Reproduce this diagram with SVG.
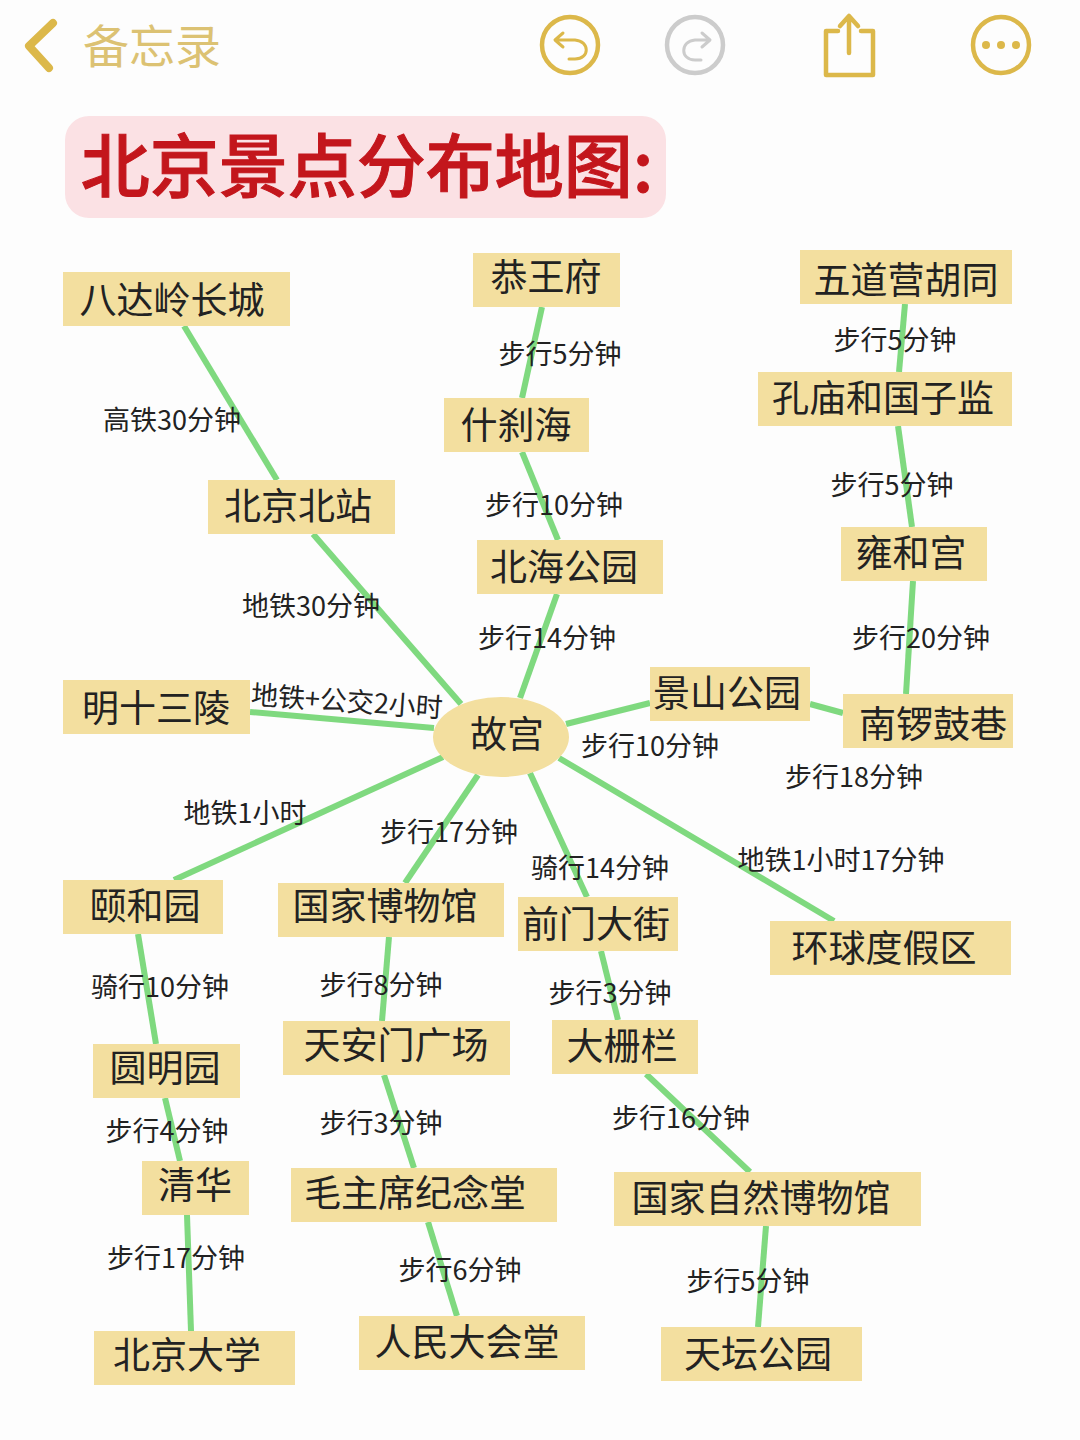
<svg xmlns="http://www.w3.org/2000/svg" width="1080" height="1440" viewBox="0 0 1080 1440">
<style>
text{font-family:"Noto Sans CJK SC","Liberation Sans",sans-serif;text-anchor:middle;fill:#222}
.n rect{fill:#f3df9f}
.n text{font-size:37px}
.l{font-size:27px}
.c line{stroke:#7fd97f;stroke-width:6}
.i{fill:none;stroke:#dcb84a;stroke-width:4.5;stroke-linecap:round;stroke-linejoin:round}
</style>
<rect width="1080" height="1440" fill="#fdfdfd"/>
<g id="toolbar">
<path class="i" d="M53 23L29 46L49 68" style="stroke-width:8"/>
<text x="152" y="63" style="font-size:46px;fill:#dcc273">备忘录</text>
<circle class="i" cx="570" cy="45" r="28"/>
<path class="i" style="stroke-width:3" d="M563 34L555 41L563 48M556 41H575C590 42 590 60 575 60H569" transform="translate(0,-1)"/>
<circle class="i" cx="695" cy="45" r="28" style="stroke:#ccc"/>
<path class="i" style="stroke:#ccc;stroke-width:3" d="M702 33L710 40L702 47M709 40H695C680 41 680 60 695 60H701"/>
<path class="i" d="M838 31H826V75H873V31H861M849 17V53M840 26L849 16L858 26"/>
<circle class="i" cx="1001" cy="45" r="28"/>
<g fill="#dcb84a"><circle cx="986" cy="45" r="4"/><circle cx="1001" cy="45" r="4"/><circle cx="1016" cy="45" r="4"/></g>
</g>
<g id="title">
<rect x="65" y="116" width="601" height="102" rx="24" fill="#fbe1e4"/>
<text x="367" y="192" style="font-size:69px;font-weight:500;fill:#c3161c;stroke:#c3161c;stroke-width:1">北京景点分布地图:</text>
</g>
<g id="connectors" class="c">
<line x1="184" y1="326" x2="277" y2="480"/>
<line x1="313" y1="534" x2="461" y2="704"/>
<line x1="250" y1="712" x2="434" y2="728"/>
<line x1="174" y1="880" x2="443" y2="757"/>
<line x1="138" y1="934" x2="156" y2="1044"/>
<line x1="165" y1="1098" x2="180" y2="1161"/>
<line x1="187" y1="1215" x2="191" y2="1331"/>
<line x1="542" y1="307" x2="522" y2="398"/>
<line x1="522" y1="452" x2="558" y2="540"/>
<line x1="557" y1="594" x2="520" y2="698"/>
<line x1="905" y1="304" x2="899" y2="372"/>
<line x1="898" y1="426" x2="912" y2="527"/>
<line x1="913" y1="581" x2="906" y2="694"/>
<line x1="566" y1="724" x2="650" y2="703"/>
<line x1="810" y1="704" x2="843" y2="713"/>
<line x1="478" y1="775" x2="405" y2="883"/>
<line x1="389" y1="937" x2="382" y2="1021"/>
<line x1="384" y1="1075" x2="414" y2="1168"/>
<line x1="428" y1="1222" x2="457" y2="1316"/>
<line x1="530" y1="773" x2="587" y2="897"/>
<line x1="601" y1="951" x2="618" y2="1020"/>
<line x1="646" y1="1074" x2="750" y2="1172"/>
<line x1="766" y1="1226" x2="758" y2="1327"/>
<line x1="559" y1="758" x2="834" y2="921"/>
</g>
<g id="labels" class="l">
<text x="172" y="430">高铁30分钟</text>
<text x="311" y="616">地铁30分钟</text>
<text x="347" y="711" transform="rotate(4 347 700)">地铁+公交2小时</text>
<text x="245" y="823">地铁1小时</text>
<text x="160" y="997">骑行10分钟</text>
<text x="167" y="1141">步行4分钟</text>
<text x="176" y="1268">步行17分钟</text>
<text x="560" y="364">步行5分钟</text>
<text x="554" y="515">步行10分钟</text>
<text x="547" y="648">步行14分钟</text>
<text x="895" y="350">步行5分钟</text>
<text x="892" y="495">步行5分钟</text>
<text x="921" y="648">步行20分钟</text>
<text x="650" y="756">步行10分钟</text>
<text x="854" y="787">步行18分钟</text>
<text x="449" y="842">步行17分钟</text>
<text x="381" y="995">步行8分钟</text>
<text x="381" y="1133">步行3分钟</text>
<text x="460" y="1280">步行6分钟</text>
<text x="600" y="878">骑行14分钟</text>
<text x="610" y="1003">步行3分钟</text>
<text x="681" y="1128">步行16分钟</text>
<text x="748" y="1291">步行5分钟</text>
<text x="841" y="870">地铁1小时17分钟</text>
</g>
<g id="n1" class="n"><rect x="63" y="272" width="227" height="54"/><text x="172" y="314">八达岭长城</text></g>
<g id="n2" class="n"><rect x="473" y="253" width="147" height="54"/><text x="546" y="291">恭王府</text></g>
<g id="n3" class="n"><rect x="800" y="250" width="212" height="54"/><text x="906" y="294">五道营胡同</text></g>
<g id="n4" class="n"><rect x="444" y="398" width="145" height="54"/><text x="516" y="439">什刹海</text></g>
<g id="n5" class="n"><rect x="758" y="372" width="254" height="54"/><text x="883" y="412">孔庙和国子监</text></g>
<g id="n6" class="n"><rect x="208" y="480" width="187" height="54"/><text x="298" y="520">北京北站</text></g>
<g id="n7" class="n"><rect x="477" y="540" width="186" height="54"/><text x="564" y="581">北海公园</text></g>
<g id="n8" class="n"><rect x="841" y="527" width="146" height="54"/><text x="911" y="567">雍和宫</text></g>
<g id="n9" class="n"><rect x="63" y="680" width="187" height="54"/><text x="156" y="722">明十三陵</text></g>
<g id="n10" class="n"><rect x="650" y="667" width="160" height="54"/><text x="727" y="707">景山公园</text></g>
<g id="n11" class="n"><rect x="843" y="694" width="170" height="54"/><text x="933" y="738">南锣鼓巷</text></g>
<g id="n12" class="n"><ellipse cx="501" cy="737" rx="68" ry="40" fill="#f3df9f"/><text x="507" y="748">故宫</text></g>
<g id="n13" class="n"><rect x="63" y="880" width="160" height="54"/><text x="145" y="920">颐和园</text></g>
<g id="n14" class="n"><rect x="278" y="883" width="226" height="54"/><text x="385" y="920">国家博物馆</text></g>
<g id="n15" class="n"><rect x="518" y="897" width="160" height="54"/><text x="596" y="938">前门大街</text></g>
<g id="n16" class="n"><rect x="770" y="921" width="241" height="54"/><text x="884" y="962">环球度假区</text></g>
<g id="n17" class="n"><rect x="93" y="1044" width="147" height="54"/><text x="165" y="1082">圆明园</text></g>
<g id="n18" class="n"><rect x="283" y="1021" width="227" height="54"/><text x="396" y="1059">天安门广场</text></g>
<g id="n19" class="n"><rect x="552" y="1020" width="146" height="54"/><text x="622" y="1060">大栅栏</text></g>
<g id="n20" class="n"><rect x="142" y="1161" width="107" height="54"/><text x="195" y="1199">清华</text></g>
<g id="n21" class="n"><rect x="291" y="1168" width="266" height="54"/><text x="415" y="1207">毛主席纪念堂</text></g>
<g id="n22" class="n"><rect x="614" y="1172" width="307" height="54"/><text x="761" y="1212">国家自然博物馆</text></g>
<g id="n23" class="n"><rect x="94" y="1331" width="201" height="54"/><text x="187" y="1369">北京大学</text></g>
<g id="n24" class="n"><rect x="359" y="1316" width="226" height="54"/><text x="467" y="1356">人民大会堂</text></g>
<g id="n25" class="n"><rect x="661" y="1327" width="201" height="54"/><text x="758" y="1368">天坛公园</text></g>
</svg>
